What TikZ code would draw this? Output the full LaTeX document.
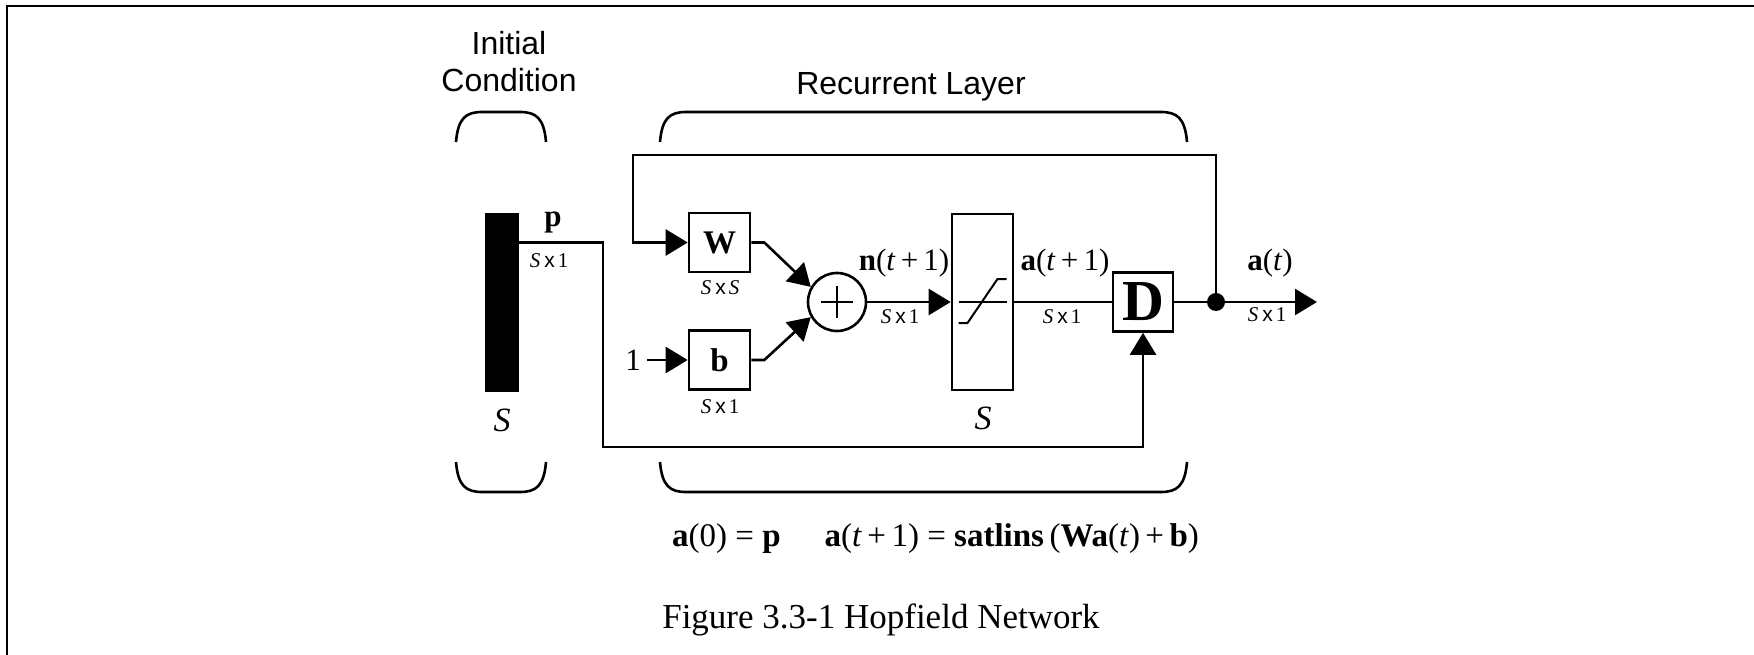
\documentclass[tikz,border=0pt]{standalone}
\usepackage{fontspec}
\setmainfont{Liberation Serif}
\setsansfont{Liberation Sans}
\usetikzlibrary{arrows.meta,calc}

% dimension tags such as "S x 1"
\newcommand\DimS[1]{\textit{S}\hspace{4pt}{\sffamily x}\hspace{3pt}#1}

\begin{document}
\begin{tikzpicture}[x=1pt,y=-1pt,line join=miter,
  wire/.style={line width=2.6pt},
  tip/.style={-{Triangle[length=22pt,width=26pt]}},
  blk/.style={draw,line width=2.6pt,minimum width=61pt,minimum height=59pt,inner sep=0pt,
              font=\fontsize{33}{36}\selectfont\bfseries},
  lbl/.style={font=\fontsize{31}{36}\selectfont},
  dimlbl/.style={font=\fontsize{21}{24}\selectfont},
  hdr/.style={font=\sffamily\fontsize{32}{36}\selectfont},
  brace/.style={line width=2.6pt},
]
\useasboundingbox (0,0) rectangle (1754,655);

% page frame (top and left rules)
\draw[line width=2.4pt] (7,655) -- (7,6) -- (1754,6);

% headings
\node[hdr,anchor=base] (ic1) at (509,55) {Initial};
\node[hdr,anchor=base] (ic2) at (509,92) {Condition};
\node[hdr,anchor=base] (rl) at (911,95) {Recurrent Layer};

% group brackets
\draw[brace] (456,142) .. controls (458,118) and (466,112) .. (482,112) -- (520,112)
  .. controls (536,112) and (544,118) .. (546,142);
\draw[brace] (456,462) .. controls (458,486) and (466,492) .. (482,492) -- (520,492)
  .. controls (536,492) and (544,486) .. (546,462);
\draw[brace] (660,142) .. controls (662,118) and (670,112) .. (686,112) -- (1161,112)
  .. controls (1177,112) and (1185,118) .. (1187,142);
\draw[brace] (660,462) .. controls (662,486) and (670,492) .. (686,492) -- (1161,492)
  .. controls (1177,492) and (1185,486) .. (1187,462);

% blocks
\node[draw,fill=black,minimum width=33pt,minimum height=178pt,inner sep=0pt] (bar) at (501.5,302) {};
\node[blk] (W) at (719.5,242.5) {W};
\node[blk] (b) at (719.5,360) {b};
\node[circle,draw,line width=2.6pt,minimum size=58pt,inner sep=0pt] (sum) at (837,302) {};
\draw[line width=2.4pt] ($(sum)+(-16,0)$) -- ($(sum)+(16,0)$) ($(sum)+(0,-16)$) -- ($(sum)+(0,16)$);
\node[draw,line width=2.6pt,minimum width=61pt,minimum height=176pt,inner sep=0pt] (tf) at (982.5,302) {};
\draw[line width=2pt] ($(tf)+(-24,0)$) -- ($(tf)+(24,0)$);
\draw[line width=2pt] ($(tf)+(-24,21)$) -- ($(tf)+(-15,21)$) -- ($(tf)+(15,-23)$) -- ($(tf)+(24,-23)$);
\node[blk,minimum width=60pt,font=\fontsize{58}{60}\selectfont\bfseries] (D) at (1143,302) {D};
\node[circle,fill=black,minimum size=18pt,inner sep=0pt] (dot) at (1216,302) {};
\node[lbl,inner sep=0pt] (one) at (633,360) {1};
\coordinate (out) at (1317,302);
\coordinate (pc) at (603,447);
\coordinate (fb) at (633,155);

% connections
\draw[wire,tip] (bar.east |- W) -| (pc) -| (D.south);
\draw[wire,tip] (dot.center) |- (fb) |- (W.west);
\draw[wire,tip] (one.east) ++(6,0) -- (b.west);
\draw[wire,tip] (W.east) -- ++(13,0) -- (sum.150);
\draw[wire,tip] (b.east) -- ++(13,0) -- (sum.210);
\draw[wire,tip] (sum) -- (tf);
\draw[wire] (tf) -- (D);
\draw[wire] (D) -- (dot);
\draw[wire,tip] (dot) -- (out);

% signal labels
\node[lbl,anchor=base] at (553,227) {\textbf{p}};
\node[dimlbl] at (549,261) {\DimS{1}};
\node[lbl,font=\fontsize{34}{36}\selectfont\itshape] at (502,420) {S};
\node[dimlbl] at (720,288) {\DimS{\textit{S}}};
\node[dimlbl] at (720,407) {\DimS{1}};
\node[lbl,anchor=base] at (904,270) {\textbf{n}(\textit{t}\,+\,1)};
\node[dimlbl] at (900,317) {\DimS{1}};
\node[lbl,font=\fontsize{34}{36}\selectfont\itshape] at (983,418) {S};
\node[lbl,anchor=base] at (1065,270) {\textbf{a}(\textit{t}\,+\,1)};
\node[dimlbl] at (1062,317) {\DimS{1}};
\node[lbl,anchor=base] at (1270,270) {\textbf{a}(\textit{t})};
\node[dimlbl] at (1267,315) {\DimS{1}};

% network equations and caption
\node[font=\fontsize{33}{36}\selectfont,anchor=base west,inner sep=0pt] at (672,546)
  {\textbf{a}(0) = \textbf{p}\hspace{44pt}\textbf{a}(\textit{t}\,+\,1) = \textbf{satlins}\,(\textbf{Wa}(\textit{t})\,+\,\textbf{b})};
\node[font=\fontsize{35}{40}\selectfont,anchor=base] at (881,628) {Figure 3.3-1 Hopfield Network};
\end{tikzpicture}
\end{document}
